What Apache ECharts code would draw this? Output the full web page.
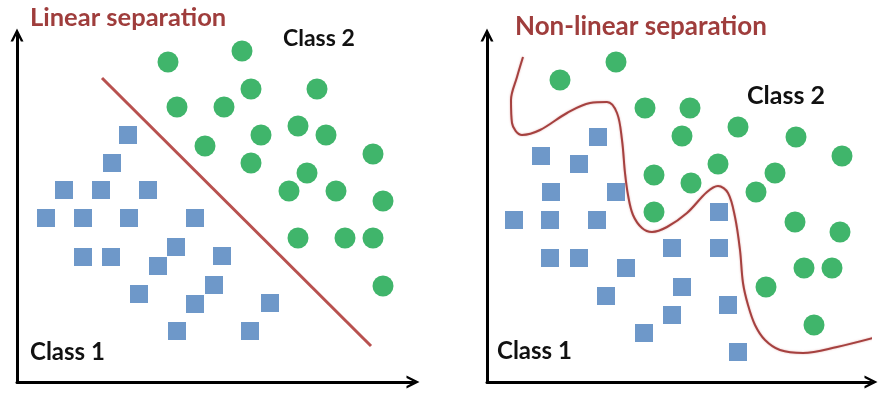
<!DOCTYPE html>
<html>
<head>
<meta charset="utf-8">
<title>Linear vs non-linear separation</title>
<script src="https://cdn.jsdelivr.net/npm/echarts@6/dist/echarts.min.js"></script>
<style>
  html, body { margin: 0; padding: 0; background: #fff; }
  #chart { width: 878px; height: 396px; }
</style>
</head>
<body>
<div id="chart"></div>
<script>
// data: [x, y] in axis units (origin = where the two arrows meet)
var leftClass1 = [
  [111,247],[95,219],[47,192],[84,192],[131,192],[29,164],[66,164],[112,164],[178,164],
  [159,135],[66,125],[94,125],[141,116],[205,126],[197,97],[122,88],[178,78],[253,79],
  [160,51],[233,51]
];
var leftClass2 = [
  [151,320],[225,331],[234,293],[300,293],[160,275],[207,275],[244,247],[281,256],[309,247],
  [188,236],[234,219],[356,228],[290,209],[272,191],[319,191],[366,181],[281,144],[328,144],
  [356,144],[366,96]
];
var leftBoundary = [[85,304],[354,36]];

var rightClass1 = [
  [111,245],[54,226],[92,218],[64,190],[129,190],[27,162],[63,162],[110,162],[232,170],
  [185,134],[232,134],[63,124],[92,124],[139,114],[195,95],[119,86],[241,77],[185,67],
  [157,49],[251,30]
];
var rightClass2 = [
  [73,302],[129,320],[158,274],[203,274],[195,246],[251,255],[309,245],[355,226],[167,207],
  [204,199],[231,218],[288,209],[269,190],[167,170],[308,160],[353,150],[317,114],[345,114],
  [279,95],[327,57]
];
var rightBoundary = [
  [36,325],[30,305],[24,282],[25,259],[35,247],[53,252],[80,269],[103,279],[120,280],
  [130,269],[135,242],[138,209],[141,187],[146,167],[155,154],[165,150],[180,155],[200,169],
  [220,190],[231,196],[241,189],[248,165],[253,132],[256,99],[261,77],[268,57],[278,42],
  [293,32],[316,29],[350,35],[390,45]
];

var chart = echarts.init(document.getElementById('chart'));

var arrowPath = 'path://M0,10 L5,0 L10,10 L8,10 L5,4 L2,10 Z';

function makeAxis(gridIndex, max) {
  return {
    type: 'value',
    gridIndex: gridIndex,
    min: 0,
    max: max,
    axisLine: {
      show: true,
      onZero: false,
      symbol: ['none', arrowPath],
      symbolSize: [13, 14],
      lineStyle: { color: '#000', width: 3 }
    },
    axisTick: { show: false },
    axisLabel: { show: false },
    splitLine: { show: false }
  };
}

function label(text, x, y, color, size) {
  return {
    type: 'text',
    x: x,
    y: y,
    style: {
      text: text,
      fill: color,
      fontFamily: 'Lato',
      fontWeight: 'bold',
      fontSize: size,
      verticalAlign: 'middle'
    }
  };
}

var option = {
  animation: false,
  backgroundColor: '#fff',
  grid: [
    { left: 17, top: 35, width: 396, height: 347 },
    { left: 487, top: 35, width: 384, height: 347 }
  ],
  xAxis: [makeAxis(0, 396), makeAxis(1, 384)],
  yAxis: [makeAxis(0, 347), makeAxis(1, 347)],
  graphic: [
    label('Linear separation', 30, 18, '#9f3d3c', 25.5),
    label('Class 2', 283, 39, '#111', 23),
    label('Class 1', 30, 352, '#111', 24),
    label('Non-linear separation', 515, 27, '#9f3d3c', 26),
    label('Class 2', 747, 96, '#111', 25),
    label('Class 1', 497, 351, '#111', 24)
  ],
  series: [
    {
      type: 'scatter', xAxisIndex: 0, yAxisIndex: 0,
      symbol: 'rect', symbolSize: 18,
      itemStyle: { color: '#4a7ebb' },
      data: leftClass1
    },
    {
      type: 'scatter', xAxisIndex: 0, yAxisIndex: 0,
      symbol: 'circle', symbolSize: 21,
      itemStyle: { color: '#10a246' },
      data: leftClass2
    },
    {
      type: 'line', xAxisIndex: 0, yAxisIndex: 0,
      showSymbol: false, clip: false,
      lineStyle: { color: '#b8514f', width: 3 },
      data: leftBoundary
    },
    {
      type: 'scatter', xAxisIndex: 1, yAxisIndex: 1,
      symbol: 'rect', symbolSize: 18,
      itemStyle: { color: '#4a7ebb' },
      data: rightClass1
    },
    {
      type: 'scatter', xAxisIndex: 1, yAxisIndex: 1,
      symbol: 'circle', symbolSize: 21,
      itemStyle: { color: '#10a246' },
      data: rightClass2
    },
    {
      type: 'line', xAxisIndex: 1, yAxisIndex: 1,
      showSymbol: false, clip: false, smooth: 0.35,
      lineStyle: { color: '#a5413f', width: 2, shadowColor: 'rgba(200,90,90,0.5)', shadowBlur: 2 },
      data: rightBoundary
    }
  ]
};

chart.setOption(option);
</script>
</body>
</html>
